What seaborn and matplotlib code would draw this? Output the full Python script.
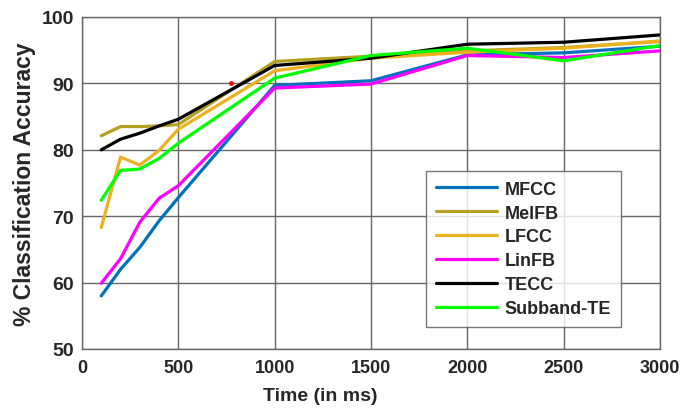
import pandas as pd
import matplotlib
matplotlib.use("Agg")
import matplotlib.pyplot as plt
import seaborn as sns

# Temps (ms) i precisió per a cada característica
time_ms = [100, 200, 300, 400, 500, 1000, 1500, 2000, 2500, 3000]
mfcc = [58.0, 62.0, 65.3, 69.3, 72.8, 89.7, 90.4, 94.3, 94.6, 95.6]
melfb = [82.1, 83.5, 83.5, 83.6, 83.8, 93.3, 94.1, 94.9, 95.4, 96.3]
lfcc = [68.3, 78.9, 77.7, 79.9, 83.1, 91.9, 93.8, 94.7, 95.3, 96.4]
linfb = [59.9, 63.6, 69.1, 72.7, 74.6, 89.3, 89.9, 94.2, 93.9, 94.9]
tecc = [80.0, 81.6, 82.5, 83.6, 84.6, 92.7, 93.8, 95.9, 96.2, 97.3]
subband_te = [72.4, 76.9, 77.1, 78.7, 81.0, 90.8, 94.2, 95.3, 93.4, 95.7]

series_names = ["MFCC", "MelFB", "LFCC", "LinFB", "TECC", "Subband-TE"]
series_values = [mfcc, melfb, lfcc, linfb, tecc, subband_te]
colors = ["#0072BD", "#B5A01F", "#EDB120", "#FF00FF", "#000000", "#00FF00"]

# punt vermell solitari
stray_x = [773]
stray_y = [90.1]

rows = []
for name, vals in zip(series_names, series_values):
    for t, v in zip(time_ms, vals):
        rows.append({"Time": t, "Accuracy": v, "Feature": name})
df = pd.DataFrame(rows)

sns.set_style("white")
plt.rcParams['font.family'] = ['Liberation Sans', 'DejaVu Sans']

fig = plt.figure(figsize=(6.85, 4.14), dpi=100)
ax = fig.add_axes([82 / 685, 1 - 350 / 414, (660 - 82) / 685, (350 - 18) / 414])

sns.lineplot(data=df, x="Time", y="Accuracy", hue="Feature", hue_order=series_names,
             palette=dict(zip(series_names, colors)), linewidth=2.3, ax=ax)
ax.plot(stray_x, stray_y, "o", color="red", markersize=2.5)

ax.set_xlim(0, 3000)
ax.set_ylim(50, 100)
ax.set_xticks(range(0, 3001, 500))
ax.set_yticks(range(50, 101, 10))
ax.grid(True, color="#666666", linewidth=1.0)
for s in ax.spines.values():
    s.set_color("#666666")
    s.set_linewidth(1.0)
ax.tick_params(axis="x", length=0, pad=7, colors="#262626", labelsize=13)
ax.tick_params(axis="y", length=0, pad=6, colors="#262626", labelsize=14)
for lab in ax.get_xticklabels() + ax.get_yticklabels():
    lab.set_fontweight("bold")

ax.set_xlabel("Time (in ms)", fontsize=14, fontweight="bold", color="#262626", labelpad=6)
ax.xaxis.set_label_coords((320 - 82) / (660 - 82), -0.115)
ax.set_ylabel("% Classification Accuracy", fontsize=16.5, fontweight="bold", color="#262626", labelpad=4)

leg = ax.legend(loc="lower right", bbox_to_anchor=(621 / 685, 1 - 328 / 414),
                bbox_transform=fig.transFigure, frameon=True, fancybox=False,
                borderaxespad=0,
                prop={"weight": "bold", "size": 13}, handlelength=3.4,
                labelspacing=0.38, borderpad=0.55, handletextpad=0.4)
leg.get_frame().set_edgecolor("#555555")
leg.get_frame().set_linewidth(1.0)
for line in leg.get_lines():
    line.set_linewidth(2.3)

fig.savefig("out.png", dpi=100)
